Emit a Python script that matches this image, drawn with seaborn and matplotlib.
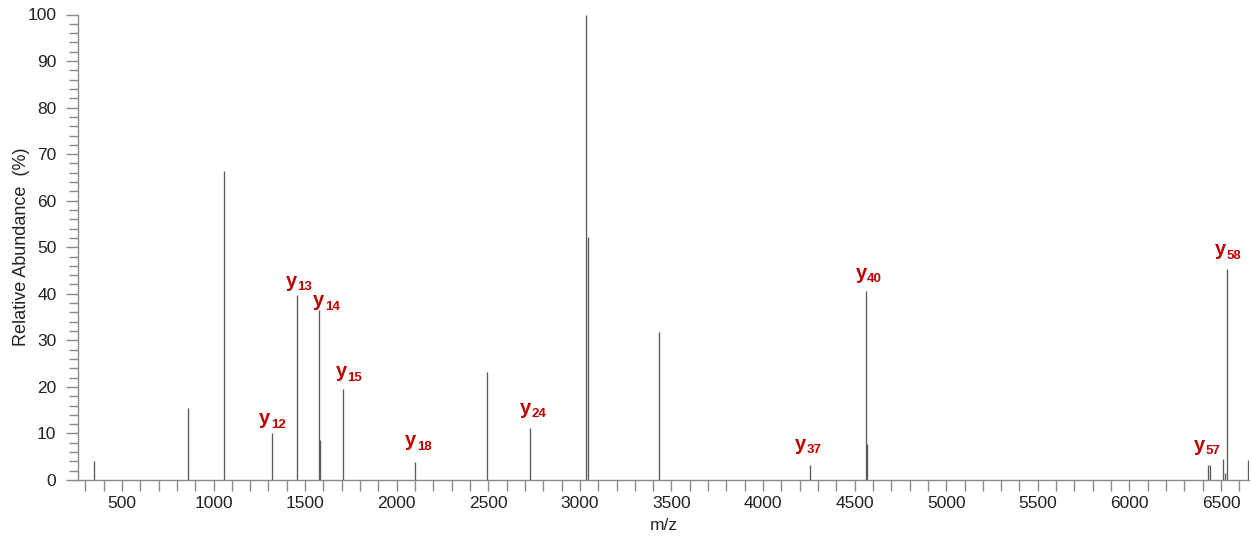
import matplotlib
matplotlib.use("Agg")
import matplotlib.pyplot as plt
import seaborn as sns
import pandas as pd
from matplotlib.ticker import MultipleLocator

# ---- data ----
mz = [350, 863, 1057, 1321, 1455, 1574, 1583, 1705, 2101, 2491, 2728,
      3036, 3044, 3434, 4254, 4560, 4569, 6429, 6440, 6509, 6520, 6534, 6646]
abundance = [4.1, 15.5, 66.4, 10.1, 39.8, 36.5, 8.7, 19.6, 3.8, 23.1, 11.2,
             100.0, 52.3, 31.7, 3.2, 40.6, 7.7, 3.3, 3.3, 4.6, 1.4, 45.3, 4.3]

ion_mz = [1321, 1455, 1574, 1705, 2101, 2728, 4254, 4560, 6429, 6534]
ion_ab = [10.1, 39.8, 36.5, 19.6, 3.8, 11.2, 3.2, 40.6, 3.3, 45.3]
ion_num = ["12", "13", "14", "15", "18", "24", "37", "40", "57", "58"]

x_major = list(range(500, 7000, 500))
y_major = list(range(0, 110, 10))

# label placement (pixels: horizontal shift of label centre, baseline height above peak)
lab_dx = [-1, 1, 6.6, 5, 2, 2.3, -2.5, 2, -2, 0]
lab_dy = [8.6, 8, 3.6, 11.3, 16, 14.3, 15.3, 12.3, 14, 14]

df = pd.DataFrame({"mz": mz, "abundance": abundance})

sns.set_theme(style="ticks")
plt.rcParams["font.family"] = ["Liberation Sans", "DejaVu Sans"]

W, H = 1251, 546
fig = plt.figure(figsize=(W / 100, H / 100), dpi=100)
ax = fig.add_axes([78 / W, 66 / H, (1249 - 78) / W, (480 - 14.5) / H])

ax.vlines(df["mz"], 0, df["abundance"], color="#5a5a5a", linewidth=0.95)

ax.set_xlim(260, 6653)
ax.set_ylim(0, 100)
ax.set_xticks(x_major)
ax.set_yticks(y_major)
ax.xaxis.set_minor_locator(MultipleLocator(100))
ax.yaxis.set_minor_locator(MultipleLocator(2))

grey = "#8a8a8a"
ax.tick_params(axis="x", which="both", direction="out", length=8, width=1,
               color=grey, labelsize=12.5, pad=3.5, labelcolor="#222222")
ax.tick_params(axis="y", which="major", direction="out", length=9, width=1,
               color=grey, labelsize=12.5, pad=6.5, labelcolor="#222222")
ax.tick_params(axis="y", which="minor", direction="out", length=6.5, width=1,
               color=grey)

sns.despine(ax=ax)
for s in ("left", "bottom"):
    ax.spines[s].set_color(grey)
    ax.spines[s].set_linewidth(1.0)

ax.set_xlabel("m/z", fontsize=12.5, color="#222222", labelpad=5)
ax.set_ylabel("Relative Abundance  (%)", fontsize=13, color="#222222")
ax.yaxis.set_label_coords((29.6 - 78) / (1249 - 78), 0.5)

red = "#C00000"
for x, y, n, dx, dy in zip(ion_mz, ion_ab, ion_num, lab_dx, lab_dy):
    ax.annotate("y", xy=(x, y), xytext=(dx - 1.0, dy), textcoords="offset pixels",
                ha="right", va="baseline", fontsize=14.5, fontweight="bold",
                color=red, annotation_clip=False)
    ax.annotate(n, xy=(x, y), xytext=(dx - 0.5, dy - 3.5), textcoords="offset pixels",
                ha="left", va="baseline", fontsize=9.5, fontweight="bold",
                color=red, annotation_clip=False)

fig.savefig("out.png", dpi=100)
